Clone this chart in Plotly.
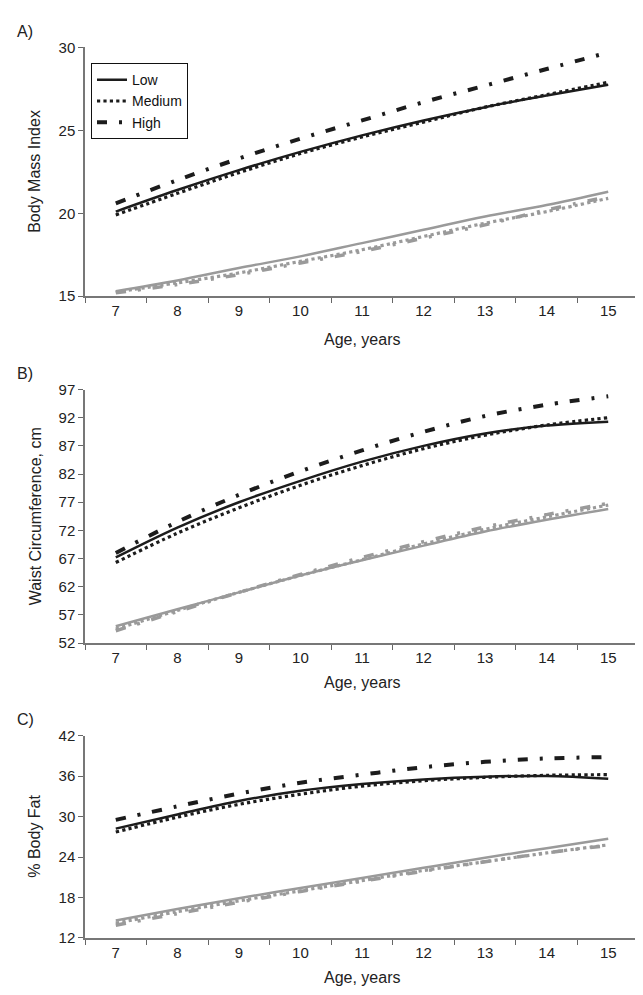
import plotly.graph_objects as go

W, H = 643, 995

ages = ["7", "8", "9", "10", "11", "12", "13", "14", "15"]
levels = ["Low", "Medium", "High"]

# Panel A: Body Mass Index
bmi_black_low = [20.1, 21.4, 22.6, 23.7, 24.7, 25.6, 26.4, 27.1, 27.75]
bmi_black_med = [19.9, 21.2, 22.45, 23.6, 24.6, 25.5, 26.4, 27.15, 27.9]
bmi_black_high = [20.6, 22.0, 23.3, 24.5, 25.6, 26.7, 27.7, 28.7, 29.7]
bmi_gray_low = [15.3, 15.95, 16.7, 17.4, 18.2, 19.0, 19.8, 20.5, 21.3]
bmi_gray_med = [15.25, 15.8, 16.4, 17.1, 17.8, 18.6, 19.4, 20.1, 20.9]
bmi_gray_high = [15.2, 15.7, 16.3, 17.0, 17.7, 18.5, 19.3, 20.2, 21.0]

# Panel B: Waist circumference
wc_black_low = [67.2, 72.5, 77.0, 80.8, 84.2, 87.0, 89.2, 90.6, 91.3]
wc_black_med = [66.3, 71.5, 76.0, 80.0, 83.5, 86.5, 88.9, 90.7, 92.0]
wc_black_high = [68.0, 73.5, 78.3, 82.5, 86.2, 89.5, 92.3, 94.3, 95.8]
wc_gray_low = [55.0, 58.0, 61.0, 64.0, 66.7, 69.3, 71.8, 73.9, 75.8]
wc_gray_med = [54.5, 57.8, 61.0, 64.0, 66.8, 69.6, 72.2, 74.4, 76.5]
wc_gray_high = [54.2, 57.6, 61.0, 64.2, 67.2, 70.0, 72.6, 74.8, 76.8]

# Panel C: % body fat
bf_black_low = [28.2, 30.3, 32.3, 33.8, 34.8, 35.5, 35.9, 36.0, 35.6]
bf_black_med = [27.7, 29.9, 31.8, 33.3, 34.5, 35.3, 35.8, 36.1, 36.2]
bf_black_high = [29.5, 31.5, 33.4, 35.0, 36.2, 37.3, 38.1, 38.6, 38.8]
bf_gray_low = [14.6, 16.3, 17.9, 19.4, 20.9, 22.4, 23.9, 25.3, 26.7]
bf_gray_med = [14.2, 15.9, 17.5, 19.0, 20.5, 22.0, 23.3, 24.6, 25.8]
bf_gray_high = [13.9, 15.6, 17.3, 18.9, 20.4, 21.9, 23.3, 24.6, 25.7]

panel_labels = ["A)", "B)", "C)"]
y_titles = ["Body Mass Index", "Waist Circumference, cm", "% Body Fat"]
x_title = "Age, years"
y_ranges = [[15, 30], [52, 97], [12, 42]]
y_dticks = [5, 5, 6]

panels = [
    [bmi_black_low, bmi_black_med, bmi_black_high, bmi_gray_low, bmi_gray_med, bmi_gray_high],
    [wc_black_low, wc_black_med, wc_black_high, wc_gray_low, wc_gray_med, wc_gray_high],
    [bf_black_low, bf_black_med, bf_black_high, bf_gray_low, bf_gray_med, bf_gray_high],
]

# pixel layout (top, bottom) of each plot area
px_x = (77, 631)
px_y = [(31, 284), (379, 637), (731, 937)]
xtitle_y = [328, 677, 977]

BLACK = "#1c1c1c"
GRAY = "#9a9a9a"
dash_styles = ["solid", "dot", "10px,12px,3px,12px"]
black_widths = [2.5, 3.2, 4]
gray_widths = [2.5, 3.2, 3.5]

fig = go.Figure()
FONT = "Arial, Liberation Sans, sans-serif"

for p in range(3):
    xa = "x" if p == 0 else f"x{p+1}"
    ya = "y" if p == 0 else f"y{p+1}"
    series = panels[p]
    for i in range(3):
        fig.add_trace(go.Scatter(
            x=ages, y=series[3 + i], mode="lines", line_shape="spline",
            line=dict(color=GRAY, width=gray_widths[i], dash=dash_styles[i]),
            xaxis=xa, yaxis=ya, showlegend=False, hoverinfo="skip"))
    for i in range(3):
        fig.add_trace(go.Scatter(
            x=ages, y=series[i], mode="lines", line_shape="spline", name=levels[i],
            line=dict(color=BLACK, width=black_widths[i], dash=dash_styles[i]),
            xaxis=xa, yaxis=ya, showlegend=(p == 0), hoverinfo="skip"))

layout = dict(
    width=W, height=H, margin=dict(l=0, r=0, t=0, b=0),
    paper_bgcolor="white", plot_bgcolor="white",
    font=dict(family=FONT, color="#222222", size=15),
    showlegend=True,
    legend=dict(x=83 / W, y=1 - 47 / H, xanchor="left", yanchor="top",
                bordercolor="#111111", borderwidth=1, bgcolor="white",
                font=dict(size=14, color="#111111"), tracegroupgap=0,
                itemwidth=30),
)
annotations = []
for p in range(3):
    sfx = "" if p == 0 else str(p + 1)
    top, bot = px_y[p]
    layout["xaxis" + sfx] = dict(
        domain=[px_x[0] / W, px_x[1] / W], anchor="y" + sfx, type="category",
        categoryorder="array", categoryarray=ages, range=[-0.5, 8.5],
        tickson="boundaries", ticks="outside", ticklen=5, tickcolor="#666666",
        showline=True, linecolor="#777777", linewidth=1.5, showgrid=False,
        zeroline=False, tickfont=dict(size=15, color="#222222"))
    layout["yaxis" + sfx] = dict(
        domain=[1 - bot / H, 1 - top / H], anchor="x" + sfx, range=y_ranges[p],
        dtick=y_dticks[p], tick0=y_ranges[p][0], ticks="outside", ticklen=5,
        tickcolor="#666666", showline=True, linecolor="#777777", linewidth=1.5,
        showgrid=False, zeroline=False, tickfont=dict(size=15, color="#222222"))
    annotations.append(dict(text=panel_labels[p], x=7 / W, y=1 - (top - 16) / H,
                            xref="paper", yref="paper", xanchor="left", yanchor="middle",
                            showarrow=False, font=dict(size=16, color="#222222")))
    annotations.append(dict(text=y_titles[p], x=27 / W, y=1 - ((top + bot) / 2) / H,
                            xref="paper", yref="paper", xanchor="center", yanchor="middle",
                            textangle=-90, showarrow=False,
                            font=dict(size=16, color="#222222")))
    annotations.append(dict(text=x_title, x=((px_x[0] + px_x[1]) / 2) / W,
                            y=1 - xtitle_y[p] / H, xref="paper", yref="paper",
                            xanchor="center", yanchor="middle", showarrow=False,
                            font=dict(size=16, color="#222222")))
layout["annotations"] = annotations
fig.update_layout(**layout)
fig.write_html("out.html")
